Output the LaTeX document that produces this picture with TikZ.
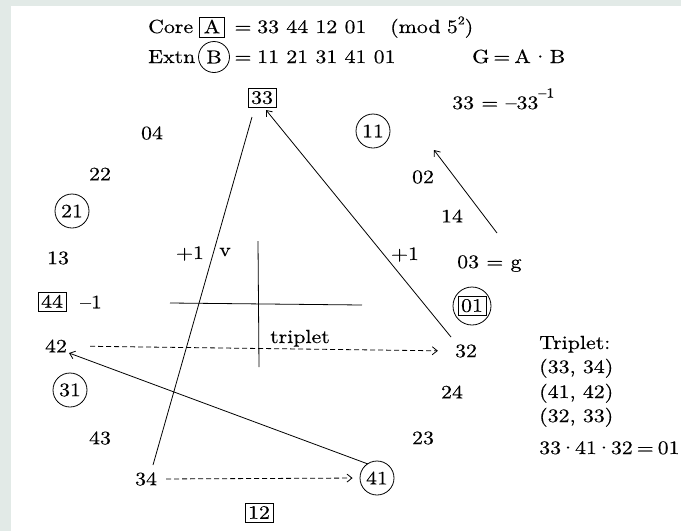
\documentclass[tikz,border=0pt]{standalone}
\usepackage{fontspec}
\setmainfont{lmroman10-regular.otf}[FakeStretch=1.15,FakeBold=0.4]
\usetikzlibrary{arrows.meta}
\definecolor{bggray}{HTML}{E2EAE7}
\begin{document}
\begin{tikzpicture}[x=1pt,y=-1pt,
  every node/.style={font=\fontsize{19}{22}\selectfont, inner sep=2pt},
  boxed/.style={draw, line width=0.8pt, inner xsep=3pt, text height=12.5pt, text depth=1pt, inner ysep=3pt},
  ring/.style={draw, circle, line width=0.8pt, minimum size=34pt, inner sep=0pt},
  conn/.style={line width=0.8pt},
  tip/.style={-{Straight Barb[length=5pt,width=8pt]}},
  dashline/.style={dash pattern=on 5pt off 3pt}
]
\fill[bggray] (0,0) rectangle (681,531);
\fill[white] (11,6) rectangle (681,531);
\useasboundingbox (0,0) rectangle (681,531);

% header
\node[anchor=base west] (core) at (146,33) {Core};
\node[boxed, inner xsep=4pt] (boxA) at (212,27.5) {A};
\node[anchor=base] (eqA) at (243,33) {=};
\node[anchor=base west] (listA) at (255,33) {33 44 12 01};
\node[anchor=base west] (mod) at (388,33) {(mod\,\,5\raisebox{0.45em}{\fontsize{12}{12}\selectfont 2})};

\node[anchor=base west] (extn) at (146,63) {Extn};
\node[ring, minimum size=31pt] (ringB) at (214,57) {B};
\node[anchor=base] (eqB) at (243,63) {=};
\node[anchor=base west] (listB) at (255,63) {11 21 31 41 01};
\node[anchor=base west] (gdef) at (470,63) {G\kern4pt=\kern4pt A\kern1pt·\kern1pt B};

% ring of residues
\node[boxed] (n33) at (262,98) {33};
\node[anchor=base west] (inv) at (450,109) {33 = –33\raisebox{0.6em}{\fontsize{14}{14}\selectfont –1}};
\node (n04) at (152,133) {04};
\node[ring] (n11) at (373,131) {11};
\node (n22) at (100,174) {22};
\node (n02) at (423,177) {02};
\node[ring] (n21) at (72,211) {21};
\node (n14) at (452,216) {14};
\node[anchor=base] (pl1) at (190,259) {+1};
\node[anchor=base] (vv) at (225,256) {v};
\node[anchor=base] (pl2) at (405,260) {+1};
\node (n13) at (58,258) {13};
\node[anchor=base west] (n03) at (455,268) {03 = g};
\node[boxed] (n44) at (52,302) {44};
\node (m1) at (91,302) {–1};
\node[draw, circle, line width=0.8pt, minimum size=38pt, inner sep=0pt] (n01) at (472,306) {};
\node[boxed] (n01b) at (n01) {01};
\node[anchor=base west] (trip) at (268,343) {triplet};
\node (n42) at (56,346) {42};
\node (n32) at (466,351) {32};
\node[ring] (n31) at (70,390) {31};
\node (n24) at (452,392) {24};
\node (n43) at (100,438) {43};
\node (n23) at (423,438) {23};
\node (n34) at (146,479) {34};
\node[ring] (n41) at (377,478) {41};
\node[boxed] (n12) at (259,513) {12};

% right column
\node[anchor=base west] (t0) at (537,349) {Triplet:};
\node[anchor=base west] (t1) at (537,373) {(33, 34)};
\node[anchor=base west] (t2) at (537,398) {(41, 42)};
\node[anchor=base west] (t3) at (537,422) {(32, 33)};
\node[anchor=base west] (t4) at (537,454) {33\kern-1.5pt·\kern-1.5pt41\kern-1.5pt·\kern-1.5pt32\kern4pt=\kern4pt01};

% connector ends
\coordinate (p34) at (153,465);
\coordinate (p33a) at (252,117);
\coordinate (p32) at (451,337);
\coordinate (p33b) at (266,110);
\coordinate (pg) at (497,233);
\coordinate (p02) at (434,150);
\coordinate (p41) at (368,464);
\coordinate (p42) at (69,353);
\coordinate (hL) at (170,303);
\coordinate (hR) at (362,305);
\coordinate (vT) at (258,241);
\coordinate (vB) at (259,367);

\draw[conn] (p34) -- (p33a);
\draw[conn,tip] (p32) -- (p33b);
\draw[conn,tip] (pg) -- (p02);
\draw[conn,tip] (p41) -- (p42);
\draw[conn,dashline,tip,shorten <=7pt,shorten >=7pt] (n34.east) -- (n41.west);
\draw[conn,dashline,tip,shorten <=21pt,shorten >=15pt] (n42.east) -- (n32.west);
\draw[conn] (hL) -- (hR);
\draw[conn] (vT) -- (vB);
\end{tikzpicture}
\end{document}
